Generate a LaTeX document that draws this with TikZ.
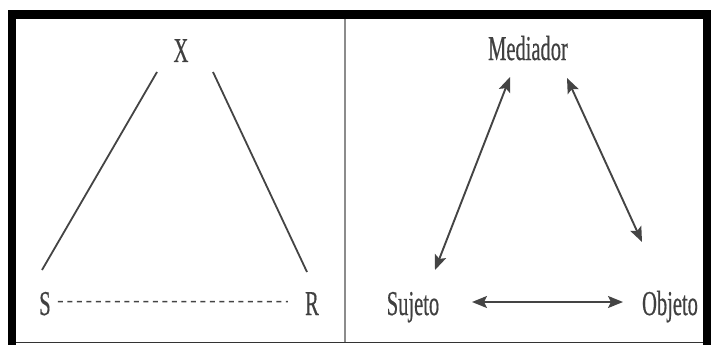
\documentclass[tikz,border=0pt]{standalone}
\usepackage{fontspec}
\setmainfont{Liberation Serif}
\newfontfamily\lblfont[FakeBold=0.6]{Liberation Serif}
\usetikzlibrary{arrows.meta,calc}
\definecolor{txtc}{HTML}{404040}
\definecolor{linec}{HTML}{444444}
\newcommand{\stretchtxt}[1]{\scalebox{1}[1.7]{#1}}
\begin{document}
\begin{tikzpicture}[x=1pt,y=-1pt,
  lbl/.style={inner sep=0pt, anchor=base, text=txtc, font=\lblfont\fontsize{20.5}{24}\selectfont},
  ln/.style={draw=linec, line width=1.8pt},
  dashln/.style={draw=linec, line width=1.6pt, dash pattern=on 5pt off 4.5pt},
  arr/.style={draw=linec, line width=1.9pt,
    {Stealth[length=15pt,width=12pt,inset=3pt]}-{Stealth[length=15pt,width=12pt,inset=3pt]}}
]
\useasboundingbox (0,0) rectangle (711,345);
\fill[white] (0,0) rectangle (711,345);
% frame
\fill[black] (8,10) rectangle (711,19);
\fill[black] (8,10) rectangle (16,345);
\fill[black] (703,10) rectangle (711,345);
\draw[line width=1.5pt, black!80] (16,342.5) -- (703,342.5);
\draw[line width=1.5pt, black!45] (345,19) -- (345,342);
% left panel
\node[lbl] (X) at (181,62) {\stretchtxt{X}};
\node[lbl] (S) at (45,315) {\stretchtxt{S}};
\node[lbl] (R) at (312,315) {\stretchtxt{R}};
\coordinate (xs1) at ($(X.base)+(-24,10)$);
\coordinate (xs2) at ($(S.base)+(-3,-45)$);
\coordinate (xr1) at ($(X.base)+(32,10)$);
\coordinate (xr2) at ($(R.base)+(-5,-43)$);
\draw[ln] (xs1) -- (xs2);
\draw[ln] (xr1) -- (xr2);
\draw[dashln, shorten <=7pt, shorten >=17pt] ([yshift=2pt]S.east) -- ([yshift=2pt]R.west);
% right panel
\node[lbl] (M) at (528,60) {\stretchtxt{Mediador}};
\node[lbl] (Su) at (413,315) {\stretchtxt{Sujeto}};
\node[lbl] (O) at (670,315) {\stretchtxt{Objeto}};
\coordinate (ms1) at ($(M.base)+(-18,17)$);
\coordinate (ms2) at ($(Su.base)+(22,-45)$);
\coordinate (mo1) at ($(M.base)+(39,18)$);
\coordinate (mo2) at ($(O.base)+(-28,-73)$);
\coordinate (so1) at ($(Su.base)+(59,-13)$);
\coordinate (so2) at ($(O.base)+(-47,-13)$);
\draw[arr] (ms1) -- (ms2);
\draw[arr] (mo1) -- (mo2);
\draw[arr] (so1) -- (so2);
\end{tikzpicture}
\end{document}
